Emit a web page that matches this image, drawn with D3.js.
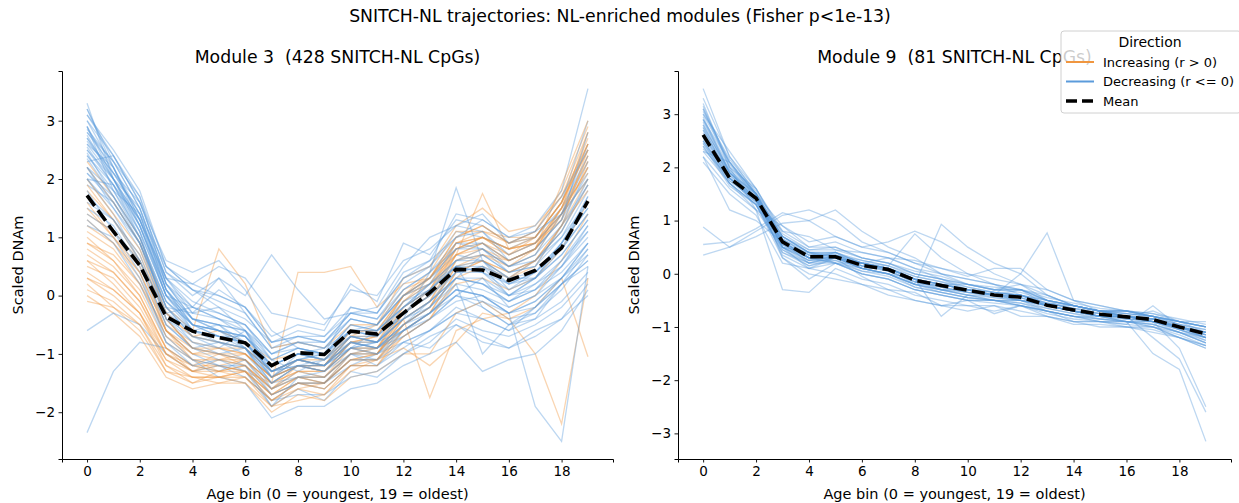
<!DOCTYPE html>
<html>
<head>
<meta charset="utf-8">
<title>SNITCH-NL trajectories</title>
<script src="https://cdn.jsdelivr.net/npm/d3@7"></script>
<style>
  body { margin: 0; background: #fff; }
  svg text { font-family: "DejaVu Sans", sans-serif; fill: #000; }
</style>
</head>
<body>
<svg id="fig" width="1239" height="503"></svg>
<script>
// age bins 0..19
var bins = d3.range(20);

// module 3 : trajectories (a sample of the 428 CpGs)
var m3Increasing = [
  [0.3,0.0,-0.4,-1.1,-1.3,-1.4,-1.3,-1.7,-1.5,-1.6,-1.2,-1.2,-0.6,-0.3,0.4,0.6,0.3,0.5,1.2,2.3],
  [0.8,0.5,0.0,-0.9,-1.2,-1.0,-1.2,-1.6,-1.3,-1.4,-0.9,-1.0,-0.3,0.0,0.8,1.0,0.7,0.9,1.5,2.6],
  [1.2,0.9,0.3,-0.7,-1.0,-1.1,-1.0,-1.4,-1.2,-1.2,-0.7,-0.8,-0.1,0.3,1.0,1.2,0.9,1.1,1.8,2.9],
  [0.2,-0.2,-0.5,-1.2,-1.5,-1.3,-1.4,-1.8,-1.6,-1.5,-1.1,-1.0,-0.4,-0.1,0.6,0.8,0.5,0.7,1.4,2.0],
  [1.6,1.0,0.5,-0.5,-0.8,-0.9,-0.9,-1.3,-1.1,-1.2,-0.6,-0.6,0.0,0.2,0.7,0.9,0.6,0.8,1.3,2.5],
  [2.3,1.7,1.0,-0.2,-0.6,0.8,0.2,-0.9,-0.8,-0.9,-0.5,-0.5,0.1,0.3,0.9,1.0,0.8,0.9,1.4,2.2],
  [0.5,0.3,-0.2,-1.0,-1.2,-1.2,-1.3,-1.5,0.4,0.4,0.5,-0.2,0.2,0.3,0.8,1.0,0.7,1.0,1.6,2.7],
  [-0.1,-0.2,-0.6,-1.3,-1.4,-1.5,-1.4,-1.9,-1.8,-1.7,-1.3,-1.1,-0.9,-1.2,-0.8,-0.3,-0.4,-1.0,-2.2,0.3],
  [1.0,0.6,0.1,-0.8,-1.1,-1.2,-1.1,-1.6,-1.4,-1.4,-1.0,-1.0,-0.5,-0.2,0.5,0.6,0.4,0.6,1.1,1.9],
  [0.0,-0.3,-0.7,-1.4,-1.6,-1.5,-1.5,-2.0,-1.7,-1.8,-1.4,-1.3,-1.0,-1.0,-0.3,-0.1,-0.4,-0.2,0.3,-1.05],
  [1.4,1.1,0.6,-0.3,-0.7,-0.6,-0.8,-1.1,-1.0,-1.1,-0.7,-0.5,0.3,0.5,1.2,1.5,1.1,1.2,1.7,2.8],
  [0.6,0.2,-0.3,-1.0,-1.3,-1.1,-1.2,-1.6,-1.2,-1.3,-0.9,-0.9,-0.2,0.1,0.7,1.75,0.8,0.9,1.3,2.4],
  [2.0,1.4,0.8,-0.4,-0.9,-1.0,-1.1,-1.5,-1.3,-1.3,-0.8,-0.9,-0.4,-1.75,-0.6,-0.4,-0.3,0.0,0.6,1.4],
  [0.9,0.7,0.2,-0.6,-1.0,-0.9,-1.0,-1.4,-1.2,-1.2,-0.8,-0.7,0.0,0.4,1.1,1.1,1.0,1.0,1.6,2.5],
  [1.8,1.3,0.6,-0.6,-1.1,-1.3,-1.2,-1.7,-1.5,-1.5,-1.1,-1.1,-0.7,-0.4,0.2,0.3,0.1,0.3,0.8,1.6],
  [0.4,0.1,-0.3,-1.1,-1.4,-1.4,-1.3,-1.7,-1.4,-1.5,-1.1,-1.0,-0.5,-0.2,0.5,0.7,0.6,0.8,1.9,3.0],
  [1.1,0.8,0.2,-0.7,-1.1,-1.1,-1.1,-1.5,-1.3,-1.3,-0.9,-0.9,-0.3,0.1,0.8,0.9,0.7,0.9,1.4,2.2],
  [0.7,0.4,-0.1,-0.9,-1.2,-1.3,-1.2,-1.6,-1.4,-1.4,-1.0,-0.9,-0.3,0.0,0.7,0.9,0.6,0.8,1.4,2.4],
  [1.5,1.0,0.4,-0.6,-1.0,-1.0,-1.1,-1.5,-1.2,-1.3,-0.8,-0.8,-0.2,0.1,0.9,1.0,0.8,1.0,1.6,2.6],
  [0.3,0.1,-0.3,-1.2,-1.4,-1.4,-1.4,-1.8,-1.5,-1.6,-1.2,-1.1,-0.5,-0.2,0.6,0.7,0.5,0.8,1.5,2.8],
  [1.9,1.3,0.7,-0.4,-0.9,-0.9,-1.0,-1.4,-1.2,-1.2,-0.7,-0.7,-0.1,0.2,0.8,1.0,0.8,0.9,1.5,2.3],
  [0.1,-0.1,-0.5,-1.3,-1.5,-1.4,-1.5,-1.9,-1.6,-1.7,-1.2,-1.2,-0.7,-0.4,0.3,0.5,0.3,0.6,1.2,1.8],
  [1.3,0.9,0.4,-0.6,-0.9,-1.0,-1.0,-1.4,-1.1,-1.2,-0.8,-0.7,0.0,0.3,1.0,1.2,0.9,1.1,1.7,2.6],
  [0.6,0.4,-0.1,-1.0,-1.3,-1.2,-1.3,-1.7,-1.4,-1.5,-1.0,-1.0,-0.4,-0.1,0.7,0.8,0.6,0.8,1.5,2.1],
  [2.2,1.6,0.9,-0.3,-0.7,-0.8,-0.9,-1.3,-1.1,-1.1,-0.6,-0.6,0.0,0.3,0.9,1.1,0.9,1.0,1.6,2.5],
  [0.9,0.6,0.0,-0.9,-1.3,-1.3,-1.3,-1.8,-1.5,-1.5,-1.1,-1.1,-0.6,-0.3,0.4,0.6,0.4,0.6,1.2,2.0]
];
var m3Decreasing = [
  [3.2,2.3,1.5,0.2,-0.4,-0.6,-0.8,-1.4,-1.2,-1.3,-0.9,-1.0,-0.5,-0.3,0.2,0.1,-0.1,0.1,0.4,0.9],
  [2.8,2.2,1.2,0.1,-0.6,-0.5,-0.9,-1.6,-1.3,-1.4,-1.0,-0.9,-0.7,-0.4,0.0,0.3,-0.2,0.0,0.5,1.2],
  [2.5,1.9,1.0,-0.2,-0.7,-0.9,-1.1,-1.7,-1.5,-1.5,-1.2,-1.2,-0.9,-0.6,-0.3,-0.1,-0.4,-0.3,0.2,0.6],
  [3.0,2.4,1.6,0.4,0.0,0.3,-0.3,-0.9,-0.8,-0.8,-0.4,-0.5,0.0,0.3,0.7,0.6,0.3,0.6,1.0,1.8],
  [2.2,1.5,0.8,-0.3,-0.8,-1.0,-0.9,-1.3,-1.1,-1.2,-0.7,-0.8,-0.3,0.0,0.5,0.4,0.1,0.4,0.8,1.4],
  [2.6,2.0,1.3,0.3,-0.3,-0.2,-0.6,-1.0,-0.9,-1.0,-0.5,-0.6,-0.2,0.2,0.6,0.8,0.4,0.5,1.2,2.2],
  [1.9,1.6,0.9,-0.1,-0.5,-0.7,-0.8,-1.2,-1.0,-0.9,-0.6,-0.7,-0.1,0.2,0.9,0.9,0.5,0.7,1.4,2.6],
  [3.3,2.0,1.1,-0.4,-0.9,-1.1,-1.2,-1.9,-1.6,-1.8,-1.3,-1.4,-1.0,-0.8,-0.4,-0.6,-0.7,-0.5,-0.2,0.3],
  [2.4,1.8,1.4,0.5,0.1,-0.2,-0.4,-0.8,-0.7,-0.8,-0.3,-0.4,0.2,0.5,1.1,1.0,0.8,1.0,1.6,3.0],
  [-2.35,-1.3,-0.8,-0.9,-1.2,-1.3,-1.1,-1.5,-1.4,-1.3,-1.0,-1.1,-0.6,-0.4,0.0,-0.2,-0.5,-0.3,0.1,0.7],
  [-0.6,-0.3,-0.5,-1.0,-1.3,-1.2,-1.4,-1.8,-1.5,-1.6,-1.2,-1.0,-0.8,-0.9,-0.5,-0.7,-0.9,-0.6,-0.4,0.2],
  [2.0,1.4,0.6,-0.5,-0.9,-0.8,-1.0,-1.5,-1.2,-1.1,-0.8,-0.9,-0.5,-0.1,0.3,0.2,-0.1,0.2,0.5,1.0],
  [2.7,2.1,1.6,0.6,0.4,0.6,0.1,-0.6,-0.9,-1.0,-0.2,-0.3,0.4,0.6,1.4,1.3,1.0,1.2,1.8,3.55],
  [1.5,1.2,0.5,-0.6,-1.0,-1.2,-1.3,-1.8,-1.7,-1.7,-1.4,-1.3,-1.0,-0.7,-0.5,-0.8,-0.9,-0.7,-0.4,0.0],
  [2.9,1.8,1.0,-0.3,-0.6,-0.7,-0.7,-1.1,-1.3,-1.1,-0.9,-0.8,-0.4,0.4,1.85,0.6,0.3,0.3,0.7,1.3],
  [2.3,2.4,1.7,0.2,-0.4,-0.5,-0.6,-1.4,-1.0,-1.1,-0.6,-0.7,-0.3,0.0,0.4,0.5,0.0,0.3,0.9,1.7],
  [2.1,1.6,0.9,-0.2,-0.7,-0.8,-0.9,-1.4,-1.2,-1.3,-0.8,-0.9,-0.6,-0.3,0.1,0.0,-0.3,-1.9,-2.5,0.5],
  [1.2,1.0,0.3,-0.7,-1.1,-1.4,-1.5,-2.1,-1.9,-1.9,-1.6,-1.5,-1.2,-1.0,-0.8,-1.3,-1.1,-1.0,-0.6,0.1],
  [2.6,2.2,1.3,0.0,-0.2,0.3,0.0,0.7,0.1,-0.4,-0.3,-0.2,0.5,1.0,1.2,1.1,0.6,0.8,1.3,2.1],
  [3.1,2.5,1.8,0.5,0.2,0.0,-0.2,-0.7,-0.5,-0.6,0.2,-0.1,0.9,0.7,1.3,1.2,0.9,1.0,1.5,2.4],
  [1.8,1.1,0.4,-0.8,-1.2,-1.1,-1.3,-1.9,-1.4,-1.5,-1.0,-1.2,-0.8,-0.6,-0.2,-0.4,-0.6,-0.2,0.2,0.8],
  [2.45,1.7,0.9,-0.4,-0.8,-0.9,-0.6,-1.3,-1.1,-1.2,-0.7,-0.8,-0.4,-0.1,0.3,0.7,0.4,0.6,1.1,1.9],
  [2.0,1.9,1.2,0.1,-0.5,-0.6,-0.9,-1.5,-1.2,-1.3,-0.9,-0.6,-0.4,-0.2,0.2,-1.0,-0.5,-0.2,0.3,0.9],
  [2.75,2.0,1.5,0.3,-0.1,-0.3,-0.5,-1.0,-0.8,-0.9,-0.4,-0.5,0.1,0.4,0.8,0.9,0.6,0.8,1.3,2.8],
  [2.9,2.1,1.4,0.2,-0.3,-0.4,-0.7,-1.2,-1.0,-1.1,-0.7,-0.8,-0.3,0.1,0.5,0.4,0.2,0.3,0.9,1.5],
  [2.2,1.8,1.1,0.0,-0.5,-0.6,-0.7,-1.3,-1.1,-1.0,-0.6,-0.6,-0.2,0.1,0.6,0.6,0.2,0.4,0.9,1.6],
  [3.0,2.2,1.3,0.1,-0.4,-0.5,-0.8,-1.4,-1.1,-1.2,-0.8,-0.9,-0.5,-0.2,0.3,0.2,0.0,0.2,0.6,1.1],
  [2.5,2.0,1.2,0.0,-0.6,-0.8,-0.9,-1.5,-1.2,-1.3,-0.9,-0.8,-0.6,-0.3,0.1,0.0,-0.2,0.0,0.3,0.8],
  [1.7,1.3,0.7,-0.4,-0.7,-0.8,-0.9,-1.3,-1.2,-1.2,-0.8,-0.8,-0.4,-0.1,0.3,0.3,0.0,0.3,0.7,1.3],
  [2.8,2.3,1.5,0.3,-0.2,-0.3,-0.5,-1.1,-0.9,-1.0,-0.6,-0.7,-0.2,0.2,0.6,0.7,0.4,0.5,1.0,1.6],
  [2.35,1.7,1.0,-0.1,-0.6,-0.7,-0.9,-1.4,-1.1,-1.2,-0.8,-0.9,-0.5,-0.2,0.3,0.2,-0.1,0.1,0.5,1.1],
  [3.1,2.4,1.6,0.4,0.1,-0.1,-0.3,-0.9,-0.7,-0.8,-0.3,-0.4,0.1,0.4,0.9,0.8,0.5,0.7,1.2,1.9],
  [2.0,1.5,0.9,-0.2,-0.6,-0.7,-0.8,-1.3,-1.2,-1.2,-0.9,-1.0,-0.6,-0.3,0.0,-0.1,-0.3,-0.2,0.2,0.6],
  [2.65,2.1,1.4,0.1,-0.4,-0.6,-0.7,-1.2,-1.0,-1.1,-0.7,-0.7,-0.3,0.0,0.4,0.5,0.2,0.4,0.8,1.4],
  [1.6,1.3,0.6,-0.5,-0.9,-1.0,-1.1,-1.6,-1.4,-1.4,-1.0,-1.0,-0.7,-0.4,-0.1,0.0,-0.3,-0.1,0.3,0.9],
  [2.9,2.0,1.2,0.0,-0.5,-0.7,-0.8,-1.3,-1.1,-1.0,-0.7,-0.8,-0.4,-0.1,0.4,0.4,0.0,0.1,0.6,1.2],
  [2.4,1.9,1.3,0.2,-0.2,-0.4,-0.5,-1.0,-0.8,-0.9,-0.4,-0.5,0.0,0.3,0.8,0.8,0.5,0.6,1.1,2.0],
  [3.2,2.2,1.4,0.1,-0.5,-0.6,-0.8,-1.3,-1.1,-1.2,-0.9,-0.9,-0.6,-0.3,0.1,0.0,-0.3,-0.1,0.3,0.7],
  [2.1,1.7,1.0,-0.1,-0.5,-0.6,-0.7,-1.2,-1.0,-1.0,-0.6,-0.6,-0.2,0.1,0.5,0.5,0.3,0.4,0.9,1.5],
  [2.55,1.9,1.1,0.0,-0.4,-0.5,-0.6,-1.1,-0.9,-1.0,-0.5,-0.6,-0.1,0.1,0.5,0.6,0.1,0.3,0.8,1.7],
  [1.3,0.9,0.2,-0.8,-1.1,-1.2,-1.2,-1.7,-1.5,-1.5,-1.1,-1.1,-0.8,-0.6,-0.3,-0.4,-0.6,-0.4,-0.1,0.4],
  [2.85,2.3,1.7,0.5,0.1,0.0,-0.2,-0.8,-0.6,-0.7,-0.2,-0.3,0.3,0.6,1.0,1.1,0.7,0.9,1.4,2.3],
  [2.7,2.0,1.3,0.3,0.2,0.5,0.3,-0.3,-0.4,-0.5,0.1,0.0,0.6,0.8,1.2,1.4,0.9,1.1,1.7,2.5],
  [1.4,1.1,0.6,-0.3,-0.2,-0.4,-0.6,-1.2,-1.0,-1.1,-0.6,-0.5,0.0,0.2,0.5,-0.2,-0.5,-0.4,0.2,0.5],
  [2.2,1.6,0.9,-0.2,-0.3,0.1,-0.2,-0.8,-0.7,-0.7,-0.3,-0.3,0.3,0.5,1.0,1.3,1.0,1.1,1.4,2.0]
];
var m3Mean = [1.72,1.1,0.52,-0.36,-0.61,-0.72,-0.81,-1.2,-0.98,-1.01,-0.61,-0.66,-0.3,0.05,0.45,0.44,0.26,0.43,0.82,1.62];

// module 9 : all decreasing
var m9Decreasing = [
  [3.48,2.2,1.5,0.7,0.4,0.4,0.2,0.1,-0.1,-0.2,-0.3,-0.4,-0.4,-0.6,-0.7,-0.8,-0.8,-0.9,-1.0,-1.2],
  [3.2,2.0,1.6,0.8,0.5,0.5,0.3,0.2,0.0,-0.1,-0.2,-0.3,-0.3,-0.5,-0.6,-0.7,-0.7,-0.8,-0.9,-1.0],
  [2.9,1.9,1.4,0.5,0.2,0.3,0.1,0.0,-0.2,-0.3,-0.4,-0.5,-0.5,-0.7,-0.8,-0.8,-0.9,-0.9,-1.1,-1.2],
  [2.5,1.7,1.3,0.3,-0.1,0.2,0.0,-0.1,-0.3,-0.4,-0.5,-0.5,-0.6,-0.7,-0.9,-0.9,-0.9,-1.0,-1.2,-1.35],
  [2.3,2.1,1.5,0.9,0.5,0.6,0.4,0.3,0.1,0.0,-0.1,-0.2,-0.3,-0.4,-0.6,-0.7,-0.7,-0.8,-0.9,-0.9],
  [2.2,1.6,1.2,-0.3,-0.35,0.1,-0.1,-0.2,-0.4,-0.5,-0.6,-0.6,-0.7,-0.8,-0.9,-1.0,-1.0,-1.1,-1.2,-1.4],
  [0.88,0.5,0.8,1.1,1.2,1.0,0.6,0.4,0.2,0.0,-0.2,-0.3,-0.3,-0.5,-0.6,-0.7,-0.7,-0.8,-0.9,-1.1],
  [0.55,0.6,0.85,1.15,1.0,1.2,0.8,0.5,0.3,0.0,-0.1,-0.2,-0.4,-0.5,-0.7,-0.8,-0.8,-0.8,-1.0,-1.1],
  [0.35,0.5,0.7,0.95,1.0,0.7,0.5,0.6,0.8,0.6,0.3,0.0,-0.2,-0.4,-0.6,-0.7,-0.8,-0.9,-1.0,-1.2],
  [3.0,2.3,1.6,0.7,0.4,0.2,0.1,0.0,-0.2,0.93,0.5,0.2,0.0,-0.4,-0.6,-0.7,-0.8,-0.9,-1.0,-1.1],
  [2.7,1.9,1.4,0.6,0.3,0.3,0.2,0.1,-0.1,-0.2,-0.3,-0.4,0.0,0.77,-0.5,-0.7,-0.8,-0.9,-1.0,-1.1],
  [2.6,1.8,1.3,0.4,0.2,0.3,0.1,0.0,-0.2,-0.3,-0.4,-0.4,-0.5,-0.6,-0.7,-0.8,-0.8,-1.2,-1.6,-2.6],
  [2.8,1.9,1.5,0.5,0.3,0.3,0.2,0.1,-0.1,-0.2,-0.3,-0.4,-0.5,-0.6,-0.6,-0.7,-0.8,-0.9,-1.4,-2.5],
  [2.4,1.7,1.3,0.6,0.3,0.4,0.1,0.0,-0.1,-0.3,-0.3,-0.4,-0.4,-0.6,-0.7,-0.8,-0.9,-1.5,-1.8,-3.15],
  [3.1,2.0,1.5,0.6,0.3,0.2,0.2,0.1,-0.1,-0.8,-0.4,-0.5,-0.5,-0.6,-0.7,-0.8,-0.9,-0.9,-1.0,-1.2],
  [2.5,1.8,1.4,0.7,0.4,0.4,0.2,0.1,-0.2,-0.2,-0.2,-0.3,-0.2,-0.5,-0.6,-0.7,-0.7,-0.8,-0.9,-1.0],
  [2.65,1.85,1.45,0.55,0.3,0.3,0.1,0.1,-0.1,-0.2,-0.3,-0.4,-0.4,-0.6,-0.7,-0.8,-0.8,-0.85,-1.0,-1.15],
  [2.75,1.8,1.35,0.65,0.35,0.35,0.15,0.05,-0.15,-0.25,-0.35,-0.45,-0.5,-0.55,-0.65,-0.75,-0.85,-0.85,-1.05,-1.2],
  [2.2,1.2,1.0,0.6,0.3,0.2,0.0,-0.1,-0.3,-0.4,-0.5,-0.5,-0.6,-0.7,-0.8,-0.9,-0.9,-1.0,-1.1,-1.3],
  [2.9,2.1,1.5,0.5,0.4,0.3,0.2,0.3,0.1,-0.1,-0.3,-0.4,-0.3,-0.6,-0.7,-0.8,-0.8,-0.7,-0.9,-1.0],
  [2.45,1.75,1.35,0.45,0.15,0.25,0.05,0.0,-0.25,-0.35,-0.45,-0.5,-0.55,-0.65,-0.75,-0.85,-0.9,-0.95,-1.1,-1.25],
  [2.35,1.8,1.4,0.5,0.25,0.4,0.25,0.15,0.75,0.3,0.0,-0.2,-0.3,-0.5,-0.6,-0.7,-0.8,-0.85,-0.95,-1.05],
  [3.0,2.1,1.5,0.6,0.35,0.35,0.2,0.1,-0.1,-0.2,-0.3,-0.4,-0.45,-0.6,-0.7,-0.75,-0.8,-0.85,-1.0,-1.15],
  [2.55,1.75,1.4,0.55,0.25,0.3,0.15,0.05,-0.15,-0.25,-0.35,-0.4,-0.45,-0.6,-0.7,-0.8,-0.85,-0.9,-1.05,-1.2],
  [3.3,2.2,1.6,0.75,0.45,0.45,0.3,0.2,0.0,-0.1,-0.2,-0.3,-0.35,-0.5,-0.6,-0.7,-0.75,-0.8,-0.95,-1.05],
  [2.85,1.95,1.45,0.6,0.3,0.3,0.15,0.1,-0.1,-0.2,-0.3,-0.35,-0.4,-0.55,-0.65,-0.75,-0.8,-0.85,-1.0,-1.1],
  [2.4,1.65,1.3,0.45,0.2,0.2,0.05,-0.05,-0.25,-0.35,-0.45,-0.5,-0.55,-0.7,-0.8,-0.85,-0.9,-0.95,-1.1,-1.3],
  [3.15,2.05,1.5,0.65,0.35,0.4,0.2,0.1,-0.05,-0.15,-0.25,-0.35,-0.4,-0.55,-0.65,-0.7,-0.75,-0.8,-0.95,-1.1],
  [2.7,1.85,1.4,0.5,0.25,0.25,0.1,0.0,-0.2,-0.3,-0.4,-0.45,-0.5,-0.65,-0.75,-0.8,-0.85,-0.9,-1.05,-1.2],
  [2.95,1.9,1.45,0.7,0.4,0.3,0.2,0.15,-0.05,-0.15,-0.3,-0.35,-0.4,-0.55,-0.6,-0.7,-0.8,-0.85,-1.0,-1.1],
  [2.6,1.8,1.35,0.55,0.3,0.35,0.2,0.05,-0.15,-0.3,-0.35,-0.4,-0.5,-0.6,-0.7,-0.8,-0.8,-0.9,-1.05,-1.25],
  [2.3,1.7,1.3,0.4,0.15,0.3,0.1,0.0,-0.2,-0.35,-0.45,-0.5,-0.6,-0.7,-0.8,-0.9,-0.95,-1.0,-1.15,-1.35],
  [3.05,2.15,1.55,0.65,0.4,0.35,0.25,0.15,0.0,-0.1,-0.25,-0.35,-0.4,-0.5,-0.6,-0.7,-0.75,-0.8,-0.9,-1.0],
  [2.8,1.9,1.4,0.6,0.2,0.35,0.15,0.1,-0.1,-0.25,-0.35,-0.4,-0.45,-0.6,-0.7,-0.75,-0.8,-0.9,-1.0,-1.15],
  [2.5,1.8,1.4,0.35,0.1,0.2,0.0,-0.1,-0.3,-0.4,-0.5,-0.55,-0.6,-0.7,-0.8,-0.85,-0.9,-0.95,-1.1,-1.3],
  [2.75,1.95,1.5,0.7,0.45,0.5,0.3,0.2,0.05,-0.05,-0.2,-0.25,-0.3,-0.45,-0.55,-0.65,-0.7,-0.75,-0.9,-1.0],
  [2.1,1.5,1.1,0.2,0.1,0.0,-0.2,-0.3,-0.5,-0.6,-0.6,-0.7,-0.6,-0.8,-0.9,-0.9,-1.0,-1.0,-1.2,-1.35],
  [2.9,2.0,1.2,0.9,0.6,0.7,0.5,0.4,0.2,0.1,0.0,-0.1,-0.2,-0.3,-0.5,-0.6,-0.7,-0.75,-0.85,-0.95],
  [2.6,1.9,1.5,0.3,0.0,-0.1,-0.2,-0.4,-0.5,-0.6,-0.7,-0.6,-0.8,-0.8,-0.95,-0.95,-1.0,-1.05,-1.2,-1.4],
  [3.1,2.1,1.4,0.8,0.7,0.45,0.4,0.3,0.25,0.1,-0.05,0.1,0.1,-0.3,-0.5,-0.6,-0.7,-0.8,-0.9,-1.0],
  [2.45,1.7,1.2,0.5,0.1,0.3,-0.05,-0.3,-0.35,-0.6,-0.5,-0.75,-0.6,-0.75,-0.85,-0.9,-0.95,-0.6,-1.0,-1.15]
];
var m9Mean = [2.61,1.8,1.42,0.6,0.32,0.32,0.16,0.08,-0.12,-0.22,-0.31,-0.4,-0.44,-0.59,-0.68,-0.76,-0.81,-0.86,-1.0,-1.13];

var panelTitles = ["Module 3  (428 SNITCH-NL CpGs)", "Module 9  (81 SNITCH-NL CpGs)"];
var legendLabels = ["Increasing (r > 0)", "Decreasing (r <= 0)", "Mean"];

var colInc = "#f0963f", colDec = "#5b9bdb";

var svg = d3.select("#fig");

svg.append("text")
  .attr("x", 620).attr("y", 22)
  .attr("text-anchor", "middle")
  .style("font-size", "17.3px")
  .text("SNITCH-NL trajectories: NL-enriched modules (Fisher p<1e-13)");

var panels = [
  {left: 62, right: 613, inc: m3Increasing, dec: m3Decreasing, mean: m3Mean, title: panelTitles[0]},
  {left: 678, right: 1231, inc: [], dec: m9Decreasing, mean: m9Mean, title: panelTitles[1]}
];
var plotTop = 71, plotBottom = 459;

panels.forEach(function (p) {
  var all = p.inc.concat(p.dec, [p.mean]);
  var lo = d3.min(all, function (r) { return d3.min(r); });
  var hi = d3.max(all, function (r) { return d3.max(r); });
  var pad = (hi - lo) * 0.05;

  var x = d3.scaleLinear().domain([-0.95, 19.95]).range([p.left, p.right]);
  var y = d3.scaleLinear().domain([lo - pad, hi + pad]).range([plotBottom, plotTop]);

  var line = d3.line()
    .x(function (d, i) { return x(bins[i]); })
    .y(function (d) { return y(d); });

  var g = svg.append("g");

  // interleave the two groups so that neither sits fully on top
  var traj = [];
  var n = Math.max(p.inc.length, p.dec.length);
  for (var i = 0; i < n; i++) {
    if (i < p.dec.length) traj.push({v: p.dec[i], c: colDec});
    if (i < p.inc.length) traj.push({v: p.inc[i], c: colInc});
  }

  g.selectAll("path.traj")
    .data(traj).enter().append("path")
    .attr("class", "traj")
    .attr("d", function (d) { return line(d.v); })
    .attr("fill", "none")
    .attr("stroke", function (d) { return d.c; })
    .attr("stroke-width", 1.3)
    .attr("stroke-opacity", 0.4);

  g.append("path")
    .attr("d", line(p.mean))
    .attr("fill", "none")
    .attr("stroke", "#000")
    .attr("stroke-width", 3.6)
    .attr("stroke-dasharray", "13,5.5");

  var yTicks = d3.range(Math.ceil(lo - pad), Math.floor(hi + pad) + 1);
  var xAxis = d3.axisBottom(x).tickValues(d3.range(0, 20, 2)).tickSize(3.5).tickPadding(3.5);
  var yAxis = d3.axisLeft(y).tickValues(yTicks)
    .tickFormat(function (d) { return d < 0 ? "\u2212" + Math.abs(d) : String(d); })
    .tickSize(3.5).tickPadding(3.5);

  var gx = svg.append("g").attr("transform", "translate(0," + plotBottom + ")").call(xAxis);
  var gy = svg.append("g").attr("transform", "translate(" + p.left + ",0)").call(yAxis);
  [gx, gy].forEach(function (ax) {
    ax.attr("font-size", null).attr("font-family", null);
    ax.selectAll("text").style("font-size", "13.5px");
    ax.select(".domain").attr("stroke", "#000").attr("stroke-width", 1);
    ax.selectAll(".tick line").attr("stroke", "#000").attr("stroke-width", 0.9);
  });

  var cx = (p.left + p.right) / 2;
  svg.append("text")
    .attr("x", cx).attr("y", 63)
    .attr("text-anchor", "middle")
    .style("white-space", "pre")
    .style("font-size", "17.3px")
    .text(p.title);

  svg.append("text")
    .attr("x", cx).attr("y", 499)
    .attr("text-anchor", "middle")
    .style("font-size", "14.5px")
    .text("Age bin (0 = youngest, 19 = oldest)");

  svg.append("text")
    .attr("transform", "translate(" + (p.left - 39) + "," + ((plotTop + plotBottom) / 2) + ") rotate(-90)")
    .attr("text-anchor", "middle")
    .style("font-size", "14.5px")
    .text("Scaled DNAm");
});

// legend
var lg = svg.append("g").attr("transform", "translate(1061,31)");
lg.append("rect")
  .attr("width", 180).attr("height", 82).attr("rx", 3)
  .attr("fill", "#fff").attr("fill-opacity", 0.8)
  .attr("stroke", "#d0d0d0").attr("stroke-width", 1);
lg.append("text").attr("x", 89).attr("y", 16).attr("text-anchor", "middle")
  .style("font-size", "14px").text("Direction");
var items = [
  {c: colInc, dash: null, w: 2},
  {c: colDec, dash: null, w: 2},
  {c: "#000", dash: "11,5", w: 3.6}
];
items.forEach(function (it, i) {
  var yy = 31 + i * 19.5;
  lg.append("line").attr("x1", 5).attr("x2", 33).attr("y1", yy).attr("y2", yy)
    .attr("stroke", it.c).attr("stroke-width", it.w)
    .attr("stroke-dasharray", it.dash);
  lg.append("text").attr("x", 42).attr("y", yy + 4.5)
    .style("font-size", "13px").text(legendLabels[i]);
});
</script>
</body>
</html>
